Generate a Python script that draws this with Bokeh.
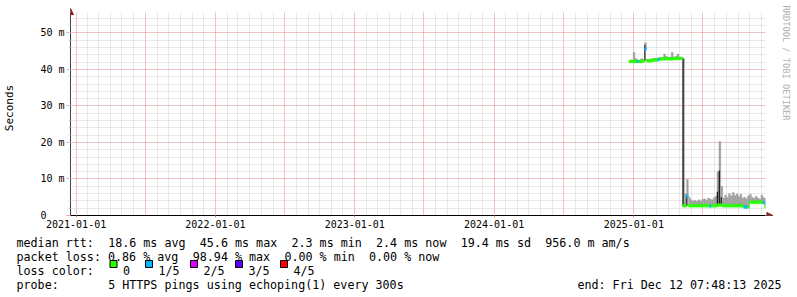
import numpy as np
import pandas as pd
from math import pi
from datetime import datetime, timedelta
from bokeh.plotting import figure
from bokeh.models import (ColumnDataSource, Range1d, FixedTicker, DatetimeTickFormatter,
                          Arrow, NormalHead, Label)
from bokeh.core.properties import value
from bokeh.embed import file_html
from bokeh.resources import INLINE

# ---------------- data ----------------
start_date = "2024-12-20"
step_days = 5
median_ms = [42.2, 42.2, 42.2, 42.2, 42.2, 42.2, 42.2, 42.3,
             45.6,
             42.4, 42.4, 42.4, 42.5, 42.6, 42.6,
             42.7, 42.9, 42.9, 42.9, 42.9, 42.9, 42.9, 42.9, 43.0, 43.0, 43.0, 43.0, 43.0,
             2.7,
             2.7, 5.2, 2.7, 2.7, 2.7, 2.7, 2.7, 2.7, 2.7, 2.7, 2.7, 2.7, 2.7,
             2.6, 2.7, 2.7, 2.7, 2.8, 2.9, 2.8, 2.7, 2.7, 2.7, 2.7, 2.7, 2.7, 2.7, 2.7,
             2.7, 2.7, 2.6, 2.3, 2.3, 2.4,
             3.6, 3.6, 3.6, 3.6, 3.6, 3.6, 3.6, 3.5, 2.4]
loss_pings = [0, 0, 0, 0, 1, 0, 0, 0,
              1,
              0, 0, 0, 0, 0, 0,
              1, 0, 0, 0, 0, 0, 0, 0, 0, 0, 0, 0, 0,
              0,
              0, 1, 0, 0, 0, 0, 0, 0, 0, 0, 0, 0, 0,
              1, 0, 0, 0, 0, 0, 0, 0, 0, 0, 0, 0, 0, 0, 0,
              0, 0, 0, 1, 1, 0,
              0, 0, 0, 0, 0, 0, 0, 1, 0]
smoke_hi_ms = [42.6, 42.6, 44.7, 43.0, 42.6, 42.6, 43.0, 42.7,
               47.3,
               42.8, 42.8, 42.9, 43.0, 43.1, 43.1,
               43.2, 43.3, 43.3, 44.2, 43.6, 43.3, 43.4, 44.7, 43.4, 43.6, 44.2, 43.4, 43.4,
               43.0,
               6.0, 9.9, 5.0, 4.3, 4.0, 4.2, 3.9, 4.3, 4.0, 4.4, 4.6, 4.2, 4.8,
               4.5, 4.3, 4.9, 5.3, 12.0, 20.3, 8.0, 4.8, 5.6, 5.0, 6.0, 5.4, 6.3, 5.5, 5.9,
               5.2, 5.8, 4.8, 5.0, 4.6, 5.4,
               5.8, 5.0, 4.7, 5.3, 4.8, 4.5, 5.6, 4.9, 4.6]
dark_index = [8, 28, 30, 46, 47, 48]
dark_lo_ms = [42.4, 2.6, 2.6, 2.9, 2.9, 2.9]
dark_hi_ms = [46.6, 43.0, 5.5, 6.5, 12.3, 5.0]

loss_labels = ["0", "1/5", "2/5", "3/5", "4/5"]
loss_colors = ["#26ff00", "#00b8ff", "#dd00ff", "#5e00ff", "#ff0000"]
y_ticks = [0, 10, 20, 30, 40, 50]
y_tick_labels = ["0\u00a0\u00a0\u00a0", "10 m", "20 m", "30 m", "40 m", "50 m"]
x_label_years = [2021, 2022, 2023, 2024, 2025]

stat_lines = [
    [(0, "median rtt:"), (13, "18.6 ms avg"), (26, "45.6 ms max"), (39, "2.3 ms min"),
     (51, "2.4 ms now"), (63, "19.4 ms sd"), (75, "956.0 m am/s")],
    [(0, "packet loss: 0.86 % avg"), (25, "98.94 % max"), (38, "0.00 % min"), (50, "0.00 % now")],
    [(0, "loss color:")],
    [(0, "probe:"), (13, "5 HTTPS pings using echoping(1) every 300s")],
]
end_text = "end: Fri Dec 12 07:48:13 2025"
watermark = "RRDTOOL / TOBI OETIKER"

# ---------------- main chart ----------------
W, H = 797, 232
LB = 67                      # left border (y axis)
graph_w, graph_h = 698, 203  # rrd graph area in pixels
pad_r, pad_t = W - LB - graph_w, 12   # extra frame space kept white (watermark, arrows)

t_end = datetime(2025, 12, 12, 7, 48, 13)
span_days = 1821
t_start = t_end - timedelta(days=span_days)
y_top = 55.6
px_day = graph_w / span_days
px_ms = graph_h / y_top
x_end = t_end + timedelta(days=pad_r / px_day)
y_max = y_top + pad_t / px_ms

dates = pd.date_range(start_date, periods=len(median_ms), freq=f"{step_days}D")
dates_end = dates + pd.Timedelta(days=step_days)
med = np.array(median_ms)
band = 0.41
src = ColumnDataSource(dict(
    left=dates, right=dates_end, med=med, hi=np.array(smoke_hi_ms),
    mlo=med - band, mhi=med + band,
    color=[loss_colors[i] for i in loss_pings],
))
dmid = [dates[i] + pd.Timedelta(days=1) for i in dark_index]

p = figure(width=W, height=H, x_axis_type="datetime",
           x_range=Range1d(t_start, x_end), y_range=Range1d(0, y_max),
           toolbar_location=None, output_backend="svg",
           min_border_left=LB, min_border_right=0, min_border_top=0,
           min_border_bottom=H - pad_t - graph_h)
p.outline_line_color = None
p.background_fill_color = "white"
p.border_fill_color = "white"

mono = "DejaVu Sans Mono"

# grids
half_years = [pd.Timestamp(f"{y}-{m:02d}-01").value // 10**6 for y in range(2021, 2026) for m in (1, 7)]
months = [pd.Timestamp(d).value // 10**6 for d in pd.date_range("2020-12-01", "2025-12-01", freq="MS")]
p.xgrid.ticker = FixedTicker(ticks=half_years, minor_ticks=months)
p.ygrid.ticker = FixedTicker(ticks=y_ticks, minor_ticks=list(range(2, 56, 2)))
for g in (p.xgrid[0], p.ygrid[0]):
    g.grid_line_color = "#ff7070"
    g.grid_line_alpha = 0.6
    g.grid_line_dash = "1 1"
    g.grid_line_width = 1
    g.minor_grid_line_color = "#b0b0b0"
    g.minor_grid_line_alpha = 0.55
    g.minor_grid_line_dash = "1 1"
    g.minor_grid_line_width = 1

# axes
xa = p.xaxis[0]
xa.bounds = (pd.Timestamp(t_start).value // 10**6, pd.Timestamp(t_end).value // 10**6)
xa.ticker = FixedTicker(ticks=[pd.Timestamp(f"{y}-01-01").value // 10**6 for y in x_label_years],
                        minor_ticks=[])
fmt = "%Y-%m-%d"
xa.formatter = DatetimeTickFormatter(years=fmt, months=fmt, days=fmt, hours=fmt,
                                     hourmin=fmt, minutes=fmt, minsec=fmt, seconds=fmt,
                                     milliseconds=fmt, microseconds=fmt)
xa.major_tick_out = 2
xa.major_tick_in = 0
xa.major_tick_line_color = "#f08c8c"
xa.major_label_standoff = 2
xa.axis_line_color = "black"

ya = p.yaxis[0]
ya.bounds = (0, y_top)
ya.ticker = FixedTicker(ticks=y_ticks, minor_ticks=list(range(2, 56, 2)))
ya.major_label_overrides = {t: l for t, l in zip(y_ticks, y_tick_labels)}
ya.major_tick_out = 4
ya.major_tick_in = 0
ya.major_tick_line_color = "#f4a0a0"
ya.minor_tick_out = 2
ya.minor_tick_in = 0
ya.minor_tick_line_color = "#d0d0d0"
ya.major_label_standoff = 2
ya.axis_line_color = "#404040"
ya.axis_label = "Seconds"
ya.axis_label_standoff = 21

for ax in (xa, ya):
    ax.major_label_text_font = mono
    ax.major_label_text_font_size = "10px"
    ax.major_label_text_color = "black"
ya.axis_label_text_font = mono
ya.axis_label_text_font_size = "11px"
ya.axis_label_text_font_style = "normal"
ya.axis_label_text_color = "black"

# smoke, dark spikes, median band
p.quad(left="left", right="right", bottom="med", top="hi", source=src,
       fill_color="#a0a0a0", line_color="#a0a0a0", line_width=0.3)
p.segment(x0=dmid, y0=dark_lo_ms, x1=dmid, y1=dark_hi_ms, line_color="#151515", line_width=1.2)
p.quad(left="left", right="right", bottom="mlo", top="mhi", source=src,
       fill_color="color", line_color="color", line_width=0.3)

# keep the margin strips (outside the rrd graph area) white
p.quad(left=[t_end, t_start], right=[x_end, x_end], bottom=[0, y_top], top=[y_max, y_max],
       fill_color="white", line_color=None)

# axis arrows
p.add_layout(Arrow(end=NormalHead(size=6, fill_color="#9b1c1c", line_color="#9b1c1c"),
                   x_start=t_end, y_start=0, x_end=t_end + timedelta(days=19), y_end=0,
                   line_color="black", line_width=1))
p.add_layout(Arrow(end=NormalHead(size=6, fill_color="#9b1c1c", line_color="#9b1c1c"),
                   x_start=t_start, y_start=y_top, x_end=t_start, y_end=y_top + 4 / px_ms,
                   line_color="#404040", line_width=1))

# watermark on the right (rotated, reading top to bottom)
wm_x = pd.Timestamp(t_end + timedelta(days=(785 - (LB + graph_w)) / px_day)).value // 10**6
p.add_layout(Label(x=wm_x, y=y_max - 5 / px_ms, text=watermark,
                   angle=-pi / 2, text_font=mono, text_font_size="8.7px",
                   text_color="#b0b0b0", text_align="left", text_baseline="middle"))

# ---------------- legend / stats text ----------------
H2 = 297 - H
p2 = figure(width=W, height=H2, x_range=Range1d(0, W), y_range=Range1d(H2, 0),
            x_axis_type=None, y_axis_type=None, toolbar_location=None,
            output_backend="svg", min_border=0)
p2.outline_line_color = None
p2.grid.visible = False

x0, cw = 16, 7.05
baselines = [10, 24, 38, 52]
box_left = [109.5, 145, 190, 235, 280]
tx, ty, tt = [], [], []
for line, yb in zip(stat_lines, baselines):
    for col, s in line:
        tx.append(x0 + col * cw)
        ty.append(yb)
        tt.append(s)
for b, lab in zip(box_left, loss_labels):
    tx.append(b + 13)
    ty.append(baselines[2])
    tt.append(lab)
p2.text(x=tx, y=ty, text=tt, text_font=value(mono), text_font_size="11.7px",
        text_baseline="alphabetic", text_color="black")
p2.text(x=[781], y=[baselines[3]], text=[end_text], text_font=value(mono),
        text_font_size="11.7px", text_baseline="alphabetic", text_align="right",
        text_color="black")
p2.quad(left=box_left, right=[b + 7 for b in box_left],
        top=[baselines[2] - 10] * 5, bottom=[baselines[2] - 3] * 5,
        fill_color=loss_colors, line_color="black", line_width=1)

open("out.html", "w").write(file_html([p, p2], INLINE))
